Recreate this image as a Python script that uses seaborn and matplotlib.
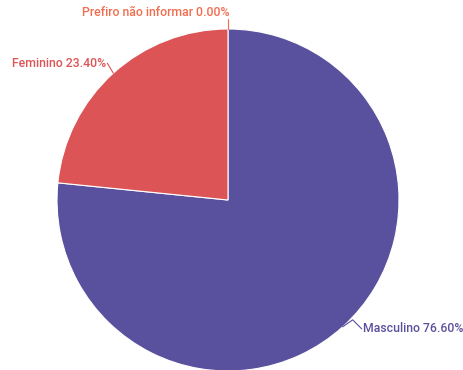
import numpy as np
import matplotlib
matplotlib.use("Agg")
import matplotlib.pyplot as plt
import seaborn as sns

# Distribution by gender
categories = ["Prefiro não informar", "Masculino", "Feminino"]
values = [0.00, 76.60, 23.40]
colors = ["#f26d4f", "#5a519e", "#dc5456"]

sns.set_theme(style="white")
plt.rcParams["font.family"] = ["Roboto", "DejaVu Sans"]

W, H = 463, 370
fig = plt.figure(figsize=(W / 100, H / 100), dpi=100)
ax = fig.add_axes([0, 0, 1, 1])

# pie in pixel-like units, y pointing up
cx, cy, r = 228, H - 200, 171
wedges, _ = ax.pie(values, colors=colors, startangle=90, counterclock=False,
                   center=(cx, cy), radius=r, frame=True,
                   wedgeprops=dict(edgecolor="white", linewidth=0.8))
ax.set_xlim(0, W)
ax.set_ylim(0, H)
ax.set_aspect("equal")
ax.set_axis_off()

# labels with leader lines, placed from each slice's mid angle
fs = 8.8
fw = "medium"
total = sum(values)
start = 0.0
for cat, val, col in zip(categories, values, colors):
    mid = (start + val / 2) / total * 360.0  # degrees clockwise from top
    start += val
    a = np.deg2rad(mid)
    px, py = cx + r * np.sin(a), cy + r * np.cos(a)
    label = f"{cat} {val:.2f}%"
    if val == 0:
        ax.plot([px, px], [py, py + 10], color=col, lw=0.8)
        ax.text(px + 1, py + 10, label, color=col, fontsize=fs,
                fontweight=fw, ha="right", va="bottom")
    elif np.sin(a) < 0:
        ex, ey = px - 6, py + 10
        ax.plot([px, ex], [py, ey], color=col, lw=0.8)
        ax.text(ex - 1, ey, label, color=col, fontsize=fs,
                fontweight=fw, ha="right", va="center")
    else:
        ex1, ey1 = px + 10, py + 7
        ex2, ey2 = px + 19, py - 2
        ax.plot([px, ex1, ex2], [py, ey1, ey2], color=col, lw=0.8)
        ax.text(ex2 + 1, ey2, label, color=col, fontsize=fs,
                fontweight=fw, ha="left", va="center")

fig.savefig("out.png", dpi=100)
